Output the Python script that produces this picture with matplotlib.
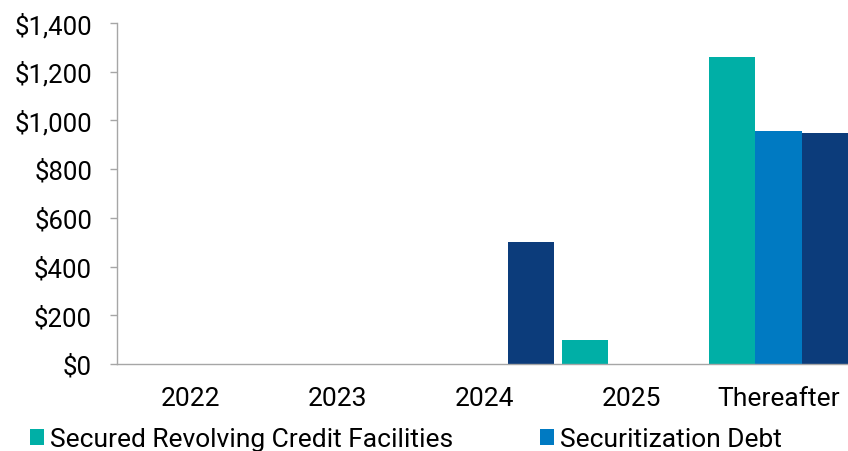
import matplotlib
matplotlib.use('Agg')
import matplotlib.pyplot as plt
import numpy as np

plt.rcParams['font.family'] = ['Roboto', 'DejaVu Sans']

categories = ['2022', '2023', '2024', '2025', 'Thereafter']
series_names = ['Secured Revolving Credit Facilities', 'Securitization Debt', 'Senior Notes']
revolving = [0, 0, 0, 100, 1260]
securitization = [0, 0, 0, 0, 955]
senior_notes = [0, 0, 500, 0, 948]
colors = ['#00AFA6', '#007AC2', '#0C3C7B']
yticks = [0, 200, 400, 600, 800, 1000, 1200, 1400]

fig = plt.figure(figsize=(8.48, 4.52), dpi=100)
ax = fig.add_axes([117 / 848, 87 / 452, 735 / 848, 341 / 452])

x = np.arange(len(categories))
w = 0.313
bars = []
for i, (vals, name, c) in enumerate(zip([revolving, securitization, senior_notes], series_names, colors)):
    bars.append(ax.bar(x + (i - 1) * w, vals, width=w, color=c, label=name, edgecolor='none'))

ax.set_xlim(-0.5, 4.5)
ax.set_ylim(0, 1400)
ax.set_xticks(x)
ax.set_xticklabels(categories, fontsize=19)
ax.set_yticks(yticks)
ax.set_yticklabels(['${:,}'.format(v) for v in yticks], fontsize=18.5)
ax.tick_params(axis='x', length=0, pad=16)
ax.tick_params(axis='y', length=5, width=1, color='#A6A6A6', pad=13, direction='out')
for s in ['top', 'right']:
    ax.spines[s].set_visible(False)
for s in ['left', 'bottom']:
    ax.spines[s].set_color('#A6A6A6')
    ax.spines[s].set_linewidth(1)

# legend fills rows left to right: revolving, securitization / senior notes
order = [0, 2, 1]
fig.legend([bars[i] for i in order], [series_names[i] for i in order],
           loc='upper left', bbox_to_anchor=(30 / 848, 1 - 428 / 452), ncol=2, frameon=False,
           fontsize=19, handlelength=0.53, handleheight=0.57, handletextpad=0.23,
           columnspacing=3.3, borderpad=0, borderaxespad=0, labelspacing=0.8)

fig.savefig('out.png', dpi=100)
